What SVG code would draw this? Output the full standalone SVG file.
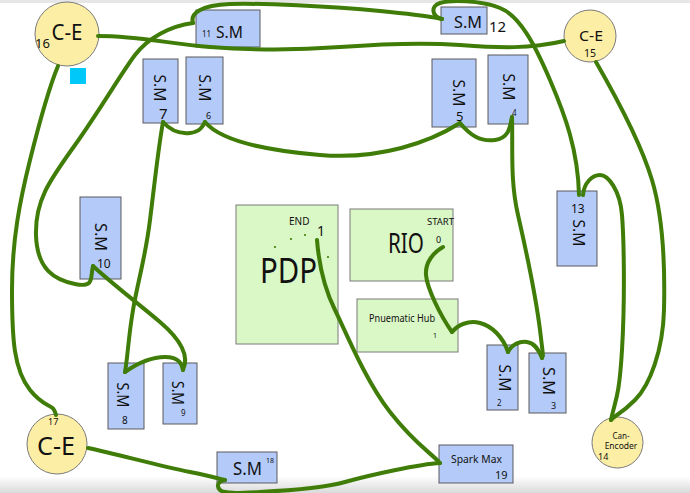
<svg xmlns="http://www.w3.org/2000/svg" width="690" height="493" viewBox="0 0 690 493">
<defs>
<linearGradient id="bot" x1="0" y1="0" x2="0" y2="1">
<stop offset="0" stop-color="#ffffff"/>
<stop offset="1" stop-color="#dadada"/>
</linearGradient>
<style>
.sm{fill:#b4cbfa;stroke:#5a5a5a;stroke-width:1}
.gb{fill:#daf7c6;stroke:#7a7a7a;stroke-width:1}
.ce{fill:#fdeea6;stroke:#7a7a7a;stroke-width:1}
text{font-family:"Noto Sans","Open Sans","DejaVu Sans",sans-serif;fill:#111}
.w{fill:none;stroke:#3f7d08;stroke-width:4;stroke-linecap:round;stroke-linejoin:round}
.mid{text-anchor:middle}
</style>
</defs>
<rect x="0" y="0" width="690" height="493" fill="#ffffff"/>
<rect x="0" y="0" width="690" height="3" fill="#e6e6e6"/>
<rect x="0" y="476" width="690" height="17" fill="url(#bot)"/>

<g id="ce16"><circle class="ce" cx="67" cy="34" r="32"/><text x="67" y="40" class="mid" font-size="21" textLength="31" lengthAdjust="spacingAndGlyphs">C-E</text><text x="35" y="48" font-size="13">16</text></g>
<rect id="marker-sq" x="70" y="68" width="16" height="16" fill="#00c8f8"/>
<g id="sm11"><rect class="sm" x="196" y="10" width="64" height="37"/><text x="216" y="38" font-size="17" textLength="27" lengthAdjust="spacingAndGlyphs">S.M</text><text x="202" y="37" font-size="8">11</text></g>
<g id="sm12"><rect class="sm" x="441" y="7" width="46" height="27"/><text x="454" y="28" font-size="17" textLength="28" lengthAdjust="spacingAndGlyphs">S.M</text><text x="489" y="32" font-size="15">12</text></g>
<g id="ce15"><circle class="ce" cx="590" cy="36" r="26"/><text x="591" y="41" class="mid" font-size="15" textLength="24" lengthAdjust="spacingAndGlyphs">C-E</text><text x="590" y="57" class="mid" font-size="10.5">15</text></g>
<g id="sm7"><rect class="sm" x="143" y="59" width="35" height="64"/><text transform="translate(160,88) rotate(90)" class="mid" dominant-baseline="central" font-size="17" textLength="27" lengthAdjust="spacingAndGlyphs">S.M</text><text x="159" y="119" font-size="15">7</text></g>
<g id="sm6"><rect class="sm" x="186" y="57" width="37" height="67"/><text transform="translate(205,88) rotate(90)" class="mid" dominant-baseline="central" font-size="17" textLength="27" lengthAdjust="spacingAndGlyphs">S.M</text><text x="206" y="119" font-size="9">6</text></g>
<g id="sm5"><rect class="sm" x="432" y="59" width="44" height="68"/><text transform="translate(459,93) rotate(90)" class="mid" dominant-baseline="central" font-size="17" textLength="27" lengthAdjust="spacingAndGlyphs">S.M</text><text x="456" y="121" font-size="13">5</text></g>
<g id="sm4"><rect class="sm" x="488" y="55" width="40" height="69"/><text transform="translate(509,87) rotate(90)" class="mid" dominant-baseline="central" font-size="17" textLength="27" lengthAdjust="spacingAndGlyphs">S.M</text><text x="512" y="116" font-size="8">4</text></g>
<g id="sm13"><rect class="sm" x="557" y="191" width="40" height="75"/><text transform="translate(579,233) rotate(90)" class="mid" dominant-baseline="central" font-size="17" textLength="27" lengthAdjust="spacingAndGlyphs">S.M</text><text x="571" y="213" font-size="12">13</text></g>
<g id="sm10"><rect class="sm" x="80" y="197" width="41" height="82"/><text transform="translate(101,237) rotate(90)" class="mid" dominant-baseline="central" font-size="17" textLength="28" lengthAdjust="spacingAndGlyphs">S.M</text><text x="97" y="268" font-size="12">10</text></g>
<g id="sm8"><rect class="sm" x="108" y="363" width="36" height="66"/><text transform="translate(123,395) rotate(90)" class="mid" dominant-baseline="central" font-size="16" textLength="25" lengthAdjust="spacingAndGlyphs">S.M</text><text x="122" y="424" font-size="10">8</text></g>
<g id="sm9"><rect class="sm" x="163" y="363" width="34" height="61"/><text transform="translate(178,393) rotate(90)" class="mid" dominant-baseline="central" font-size="16" textLength="24" lengthAdjust="spacingAndGlyphs">S.M</text><text x="181" y="416" font-size="8">9</text></g>
<g id="sm2"><rect class="sm" x="487" y="345" width="31" height="65"/><text transform="translate(505,378) rotate(90)" class="mid" dominant-baseline="central" font-size="17" textLength="27" lengthAdjust="spacingAndGlyphs">S.M</text><text x="497" y="406" font-size="8">2</text></g>
<g id="sm3"><rect class="sm" x="529" y="353" width="37" height="60"/><text transform="translate(549,381) rotate(90)" class="mid" dominant-baseline="central" font-size="17" textLength="28" lengthAdjust="spacingAndGlyphs">S.M</text><text x="551" y="409" font-size="9">3</text></g>
<g id="pdp"><rect class="gb" x="236" y="205" width="102" height="139"/><text x="260" y="283" font-size="35" textLength="57" lengthAdjust="spacingAndGlyphs">PDP</text><text x="289" y="225" font-size="10">END</text><text x="317" y="236" font-size="14">1</text>
<circle cx="275" cy="247" r="1.1" fill="#3f7d08"/><circle cx="291" cy="239" r="1.1" fill="#3f7d08"/><circle cx="305" cy="235" r="1.1" fill="#3f7d08"/><circle cx="328" cy="257" r="1.1" fill="#3f7d08"/></g>
<g id="rio"><rect class="gb" x="350" y="209" width="103" height="72"/><text x="388" y="253" font-size="27" textLength="36" lengthAdjust="spacingAndGlyphs">RIO</text><text x="427" y="225" font-size="9.5" textLength="27" lengthAdjust="spacingAndGlyphs">START</text><text x="436" y="243" font-size="9">0</text></g>
<g id="hub"><rect class="gb" x="357" y="299" width="101" height="53"/><text x="369" y="322" font-size="10" textLength="66" lengthAdjust="spacingAndGlyphs">Pnuematic Hub</text><text x="433" y="338" font-size="7">1</text></g>
<g id="ce17"><circle class="ce" cx="57" cy="444" r="30"/><text x="37" y="455" font-size="25" textLength="38" lengthAdjust="spacingAndGlyphs">C-E</text><text x="48" y="425" font-size="9">17</text></g>
<g id="sm18"><rect class="sm" x="217" y="452" width="60" height="31"/><text x="233" y="475" font-size="18" textLength="29" lengthAdjust="spacingAndGlyphs">S.M</text><text x="266" y="463" font-size="7">18</text></g>
<g id="spark"><rect class="sm" x="439" y="445" width="74" height="38"/><text x="451" y="463" font-size="11.5" textLength="51" lengthAdjust="spacingAndGlyphs">Spark Max</text><text x="495" y="479" font-size="11">19</text></g>
<g id="enc14"><circle class="ce" cx="617.5" cy="442.5" r="25.5"/><text x="621" y="439" class="mid" font-size="8">Can-</text><text x="621" y="449" class="mid" font-size="8.5">Encoder</text><text x="598" y="460" font-size="9">14</text></g>

<g id="connectors">
<path class="w" d="M98,36 C140,36 170,44 210,47 S300,50 340,47 S420,42 460,45 S530,49 564,41"/>
<path class="w" d="M193,23 C190,14 200,5 230,4 S330,6 380,11 S425,16 442,19"/>
<path class="w" d="M442,19 C432,17 430,6 440,3 S480,0 500,8 S535,45 550,80 S578,150 579,195"/>
<path class="w" d="M193,23 C170,26 148,38 135,55 S100,110 75,145 S35,200 36,235 S55,280 75,284 S90,278 93,266"/>
<path class="w" d="M93,266 C110,282 140,305 160,322 S190,355 183,370"/>
<path class="w" d="M125,372 C135,365 150,357 165,357 S182,365 183,370"/>
<path class="w" d="M163,122 C158,150 155,180 150,220 S138,280 133,310 S128,355 125,372"/>
<path class="w" d="M163,122 C170,130 180,134 190,133 S203,126 205,122"/>
<path class="w" d="M205,122 C220,140 260,150 320,155 S430,142 460,123"/>
<path class="w" d="M460,123 C470,135 480,142 495,140 S510,125 512,117"/>
<path class="w" d="M512,117 C513,150 510,180 518,215 S535,290 540,330 S542,350 542,358"/>
<path class="w" d="M508,352 C512,344 520,341 527,342 S538,348 542,358"/>
<path class="w" d="M452,332 C458,325 468,320 480,323 S503,337 508,352"/>
<path class="w" d="M443,247 C434,252 425,262 426,275 S440,315 452,332"/>
<path class="w" d="M317,240 C319,265 325,290 335,310 S365,380 390,412 S430,452 440,463"/>
<path class="w" d="M225,480 C218,481 216,486 220,490 S240,493 260,492 S320,489 345,482 S420,464 440,463"/>
<path class="w" stroke-width="5" d="M88,448 C120,455 160,466 190,472 S215,478 225,480"/>
<path class="w" d="M58,66 C48,90 40,120 30,160 S12,240 12,290 S14,370 30,390 S53,402 56,415"/>
<path class="w" d="M583,195 C584,183 592,175 600,175 S620,190 622,215 S625,300 622,350 S615,400 611,420"/>
<path class="w" d="M596,62 C615,95 640,140 652,180 S665,270 664,310 S650,385 635,400 S615,415 611,420"/>
</g>
</svg>
